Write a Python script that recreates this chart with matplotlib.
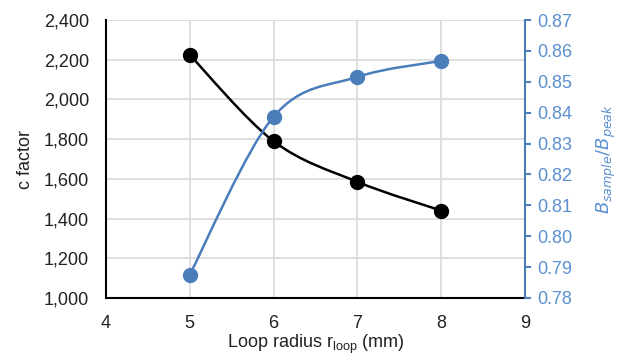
import matplotlib
matplotlib.use("Agg")
import matplotlib.pyplot as plt
from matplotlib.path import Path
from matplotlib.patches import PathPatch
import numpy as np

plt.rcParams['font.family'] = ['Liberation Sans', 'DejaVu Sans']

# data
radius = [5, 6, 7, 8]
c_factor = [2225, 1790, 1585, 1440]
b_ratio = [0.7875, 0.8387, 0.8516, 0.8568]

blk = '#000000'
blue = '#4a7ebb'
tick_blue = '#5b8fd0'


def smooth_path(xs, ys):
    # Excel-like smoothed line: cubic Bezier through the points
    xs = np.asarray(xs, float)
    ys = np.asarray(ys, float)
    verts = [(xs[0], ys[0])]
    codes = [Path.MOVETO]
    n = len(xs)
    for i in range(n - 1):
        p0 = (xs[max(i - 1, 0)], ys[max(i - 1, 0)])
        p1 = (xs[i], ys[i])
        p2 = (xs[i + 1], ys[i + 1])
        p3 = (xs[min(i + 2, n - 1)], ys[min(i + 2, n - 1)])
        c1 = (p1[0] + (p2[0] - p0[0]) / 6, p1[1] + (p2[1] - p0[1]) / 6)
        c2 = (p2[0] - (p3[0] - p1[0]) / 6, p2[1] - (p3[1] - p1[1]) / 6)
        verts += [c1, c2, p2]
        codes += [Path.CURVE4] * 3
    return Path(verts, codes)


fig = plt.figure(figsize=(6.26, 3.59), dpi=100)
ax = fig.add_axes([0.169, 0.170, 0.670, 0.774])
ax2 = ax.twinx()

ax.set_xlim(4, 9)
ax.set_ylim(1000, 2400)
ax.set_xticks(range(4, 10))
ax.set_yticks(range(1000, 2401, 200))
ax.set_yticklabels([f'{v:,}' for v in range(1000, 2401, 200)])
ax.grid(True, color='#d9d9d9', linewidth=1.2)
ax.set_axisbelow(True)

ax.add_patch(PathPatch(smooth_path(radius, c_factor), fill=False,
                       edgecolor=blk, linewidth=1.8, zorder=3))
ax.plot(radius, c_factor, 'o', color=blk, markersize=10, zorder=4)

ax2.set_ylim(0.78, 0.87)
ax2.set_yticks(np.round(np.arange(0.78, 0.8701, 0.01), 2))
ax2.yaxis.set_major_formatter(matplotlib.ticker.FormatStrFormatter('%.2f'))
ax2.add_patch(PathPatch(smooth_path(radius, b_ratio), fill=False,
                        edgecolor=blue, linewidth=1.8, zorder=3))
ax2.plot(radius, b_ratio, 'o', color=blue, markersize=10, zorder=4)

for s in ['top']:
    ax.spines[s].set_visible(False)
    ax2.spines[s].set_visible(False)
ax.spines['left'].set_color(blk)
ax.spines['left'].set_linewidth(1.5)
ax.spines['bottom'].set_linewidth(1.5)
ax.spines['right'].set_visible(False)
ax2.spines['left'].set_visible(False)
ax2.spines['bottom'].set_visible(False)
ax2.spines['right'].set_color(blue)
ax2.spines['right'].set_linewidth(1.5)

ax.tick_params(axis='x', length=0, labelsize=13, colors='#222222', pad=12)
ax.tick_params(axis='y', length=0, labelsize=13, colors='#222222', pad=12)
ax2.tick_params(axis='y', length=4, width=1.5, color=blue, labelsize=13,
                labelcolor=tick_blue, pad=5)

ax.set_xlabel('Loop radius r$_{\\mathregular{loop}}$ (mm)', fontsize=13,
              color='#222222', labelpad=1)
ax.set_ylabel('c factor', fontsize=13, color='#222222', labelpad=7)
ax2.set_ylabel('$B_{sample}/B_{peak}$', fontsize=13, color=tick_blue,
               labelpad=16)

fig.savefig('out.png', dpi=100)
